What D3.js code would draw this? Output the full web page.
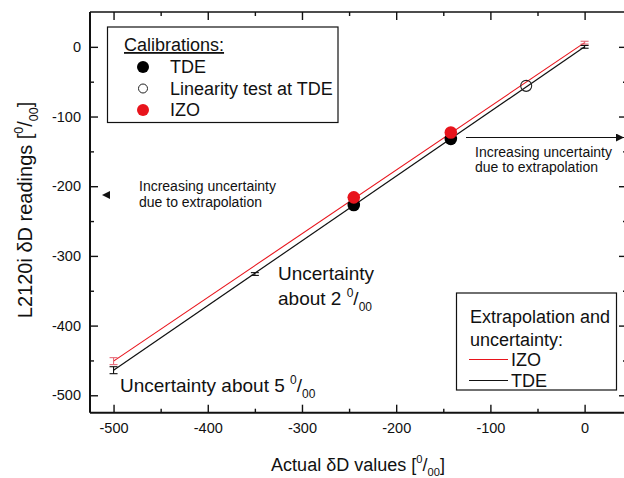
<!DOCTYPE html>
<html>
<head>
<meta charset="utf-8">
<script src="https://cdn.jsdelivr.net/npm/d3@7"></script>
<style>
  html, body { margin: 0; padding: 0; background: #fff; }
  svg text { font-family: "Liberation Sans", Arial, sans-serif; fill: #111; }
</style>
</head>
<body>
<svg id="chart" width="624" height="478"></svg>
<script>
// Axis ticks
const xTickValues = [-500, -400, -300, -200, -100, 0];
const yTickValues = [0, -100, -200, -300, -400, -500];
const minorTickValues = [-450, -350, -250, -150, -50];

// Calibration points (actual δD, measured δD)
const tdeX = [-245, -142];
const tdeY = [-227, -132];
const izoX = [-245, -142];
const izoY = [-216, -123];
const linX = [-62];
const linY = [-56];

// Extrapolation lines (endpoints of the calibration fits)
const fitX = [-500, 0];
const tdeFitY = [-464, 0];
const izoFitY = [-451, 6];

// Uncertainty bars on the extrapolated lines
const tdeErrX = [-500, -350, 0];
const tdeErrY = [-464, -326, 0];
const tdeErrHalf = [5, 2, 2];
const izoErrX = [-500, 0];
const izoErrY = [-451, 6];
const izoErrHalf = [5, 2];

const svg = d3.select("#chart");
const plotLeft = 90, plotRight = 627, plotTop = 12, plotBottom = 412.7;

const x = d3.scaleLinear().domain([-525, 45]).range([plotLeft, plotRight]);
const y = d3.scaleLinear().domain([-525, 50]).range([plotBottom, plotTop]);

const red = "#e8141c";
const tickFmt = d => String(d);   // plain hyphen-minus labels

// Axes with inward ticks on all four sides
function axisGroup(axis, tx, ty) {
  const g = svg.append("g").attr("transform", `translate(${tx},${ty})`).call(axis);
  g.select(".domain").remove();
  g.selectAll("line").attr("stroke", "#111").attr("stroke-width", 1.4);
  return g;
}
const fontSize = 14.5;

// bottom
const gb = axisGroup(d3.axisBottom(x).tickValues(xTickValues).tickFormat(tickFmt).tickSize(-8).tickPadding(10), 0, plotBottom);
gb.selectAll("text").attr("font-size", fontSize).attr("font-family", "Liberation Sans, Arial");
axisGroup(d3.axisBottom(x).tickValues(minorTickValues).tickSize(-4).tickFormat(""), 0, plotBottom);
// top
axisGroup(d3.axisTop(x).tickValues(xTickValues).tickSize(-8).tickFormat(""), 0, plotTop);
axisGroup(d3.axisTop(x).tickValues(minorTickValues).tickSize(-4).tickFormat(""), 0, plotTop);
// left
const gl = axisGroup(d3.axisLeft(y).tickValues(yTickValues).tickFormat(tickFmt).tickSize(-8).tickPadding(9), plotLeft, 0);
gl.selectAll("text").attr("font-size", fontSize).attr("font-family", "Liberation Sans, Arial");
axisGroup(d3.axisLeft(y).tickValues(minorTickValues).tickSize(-4).tickFormat(""), plotLeft, 0);
// right
axisGroup(d3.axisRight(y).tickValues(yTickValues).tickSize(-8).tickFormat(""), plotRight, 0);
axisGroup(d3.axisRight(y).tickValues(minorTickValues).tickSize(-4).tickFormat(""), plotRight, 0);

// frame
svg.append("line").attr("x1", plotLeft).attr("x2", plotRight).attr("y1", plotTop).attr("y2", plotTop)
  .attr("stroke", "#111").attr("stroke-width", 1.6);
svg.append("line").attr("x1", plotLeft).attr("x2", plotRight).attr("y1", plotBottom).attr("y2", plotBottom)
  .attr("stroke", "#111").attr("stroke-width", 2);
svg.append("line").attr("x1", plotLeft).attr("x2", plotLeft).attr("y1", plotTop).attr("y2", plotBottom)
  .attr("stroke", "#111").attr("stroke-width", 2);
svg.append("line").attr("x1", plotRight).attr("x2", plotRight).attr("y1", plotTop).attr("y2", plotBottom)
  .attr("stroke", "#111").attr("stroke-width", 1.6);

// Extrapolation lines
const line = d3.line().x(d => x(d[0])).y(d => y(d[1]));
svg.append("path").datum(d3.zip(fitX, izoFitY)).attr("d", line)
  .attr("fill", "none").attr("stroke", red).attr("stroke-width", 1.1);
svg.append("path").datum(d3.zip(fitX, tdeFitY)).attr("d", line)
  .attr("fill", "none").attr("stroke", "#111").attr("stroke-width", 1.2);

// Uncertainty bars
function errorBars(xs, ys, hs, color) {
  const data = d3.zip(xs, ys, hs);
  const g = svg.append("g").attr("stroke", color).attr("stroke-width", 1.1).attr("fill", "none");
  data.forEach(([cx, cy, h]) => {
    const px = x(cx);
    g.append("line").attr("x1", px).attr("x2", px).attr("y1", y(cy - h)).attr("y2", y(cy + h));
    [cy - h, cy + h].forEach(v => {
      g.append("line").attr("x1", px - 4).attr("x2", px + 4).attr("y1", y(v)).attr("y2", y(v));
    });
  });
}
errorBars(izoErrX, izoErrY, izoErrHalf, "#e66a78");
errorBars(tdeErrX, tdeErrY, tdeErrHalf, "#111");

// Calibration points
svg.append("g").selectAll("circle").data(d3.zip(tdeX, tdeY)).join("circle")
  .attr("cx", d => x(d[0])).attr("cy", d => y(d[1])).attr("r", 6.3).attr("fill", "#000");
svg.append("g").selectAll("circle").data(d3.zip(izoX, izoY)).join("circle")
  .attr("cx", d => x(d[0])).attr("cy", d => y(d[1])).attr("r", 6.3).attr("fill", red);
svg.append("g").selectAll("circle").data(d3.zip(linX, linY)).join("circle")
  .attr("cx", d => x(d[0])).attr("cy", d => y(d[1])).attr("r", 5.5)
  .attr("fill", "none").attr("stroke", "#222").attr("stroke-width", 1.1);

// Per-mille unit helper: [ ⁰/₀₀ ]
function perMille(t, size) {
  t.append("tspan").text("[");
  t.append("tspan").attr("dy", -size * 0.45).attr("font-size", size * 0.62).text("0");
  t.append("tspan").attr("dy", size * 0.45).text("/");
  t.append("tspan").attr("dy", size * 0.3).attr("font-size", size * 0.62).text("00");
  t.append("tspan").attr("dy", -size * 0.3).text("]");
}

// Axis titles
const xt = svg.append("text").attr("x", 358).attr("y", 471).attr("text-anchor", "middle")
  .attr("font-size", 18);
xt.append("tspan").text("Actual δD values ");
perMille(xt, 18);

const yt = svg.append("text").attr("transform", "translate(32,210) rotate(-90)")
  .attr("text-anchor", "middle").attr("font-size", 20);
yt.append("tspan").text("L2120i δD readings ");
perMille(yt, 20);

// Calibrations legend
svg.append("rect").attr("x", 107.5).attr("y", 27).attr("width", 230.5).attr("height", 95.5)
  .attr("fill", "#fff").attr("stroke", "#111").attr("stroke-width", 1.2);
svg.append("text").attr("x", 124).attr("y", 51).attr("font-size", 18)
  .attr("text-decoration", "underline").text("Calibrations:");
const legRows = [
  {label: "TDE", fill: "#000", stroke: "none", r: 6},
  {label: "Linearity test at TDE", fill: "none", stroke: "#222", r: 4.5},
  {label: "IZO", fill: red, stroke: "none", r: 6}
];
legRows.forEach((d, i) => {
  const cy = 67 + i * 21.5;
  svg.append("circle").attr("cx", 143).attr("cy", cy).attr("r", d.r)
    .attr("fill", d.fill).attr("stroke", d.stroke).attr("stroke-width", 1);
  svg.append("text").attr("x", 170).attr("y", cy + 6.3).attr("font-size", 18).text(d.label);
});

// Extrapolation legend
svg.append("rect").attr("x", 456.5).attr("y", 293).attr("width", 160).attr("height", 97)
  .attr("fill", "#fff").attr("stroke", "#111").attr("stroke-width", 1.2);
svg.append("text").attr("x", 470).attr("y", 323).attr("font-size", 18).text("Extrapolation and");
svg.append("text").attr("x", 470).attr("y", 346).attr("font-size", 18).text("uncertainty:");
[{label: "IZO", color: red, cy: 359.5}, {label: "TDE", color: "#111", cy: 380.5}].forEach(d => {
  svg.append("line").attr("x1", 469).attr("x2", 508).attr("y1", d.cy).attr("y2", d.cy)
    .attr("stroke", d.color).attr("stroke-width", 1.1);
  svg.append("text").attr("x", 511).attr("y", d.cy + 6.3).attr("font-size", 18).text(d.label);
});

// Extrapolation arrows and notes
svg.append("defs").append("marker").attr("id", "head").attr("viewBox", "0 0 10 10")
  .attr("refX", 10).attr("refY", 5).attr("markerWidth", 8).attr("markerHeight", 8)
  .attr("markerUnits", "userSpaceOnUse").attr("orient", "auto")
  .append("path").attr("d", "M0,0 L10,5 L0,10 Z").attr("fill", "#111");
svg.append("line").attr("x1", 466).attr("x2", 624).attr("y1", 137.5).attr("y2", 137.5)
  .attr("stroke", "#111").attr("stroke-width", 1.2).attr("marker-end", "url(#head)");
svg.append("path").attr("d", "M102,195 L110,191 L110,199 Z").attr("fill", "#111");

[[475, 157, "Increasing uncertainty"], [475, 172, "due to extrapolation"],
 [139, 191, "Increasing uncertainty"], [139, 207, "due to extrapolation"]].forEach(([tx, ty, s]) => {
  svg.append("text").attr("x", tx).attr("y", ty).attr("font-size", 14).text(s);
});

// Uncertainty notes
svg.append("text").attr("x", 278).attr("y", 280).attr("font-size", 19).text("Uncertainty");
const u2 = svg.append("text").attr("x", 278).attr("y", 305).attr("font-size", 19);
u2.append("tspan").text("about 2 ");
u2.append("tspan").attr("dy", -8).attr("font-size", 12).text("0");
u2.append("tspan").attr("dy", 8).text("/");
u2.append("tspan").attr("dy", 6).attr("font-size", 12).text("00");

const u5 = svg.append("text").attr("x", 120).attr("y", 392).attr("font-size", 19);
u5.append("tspan").text("Uncertainty about 5 ");
u5.append("tspan").attr("dy", -8).attr("font-size", 12).text("0");
u5.append("tspan").attr("dy", 8).text("/");
u5.append("tspan").attr("dy", 6).attr("font-size", 12).text("00");
</script>
</body>
</html>
